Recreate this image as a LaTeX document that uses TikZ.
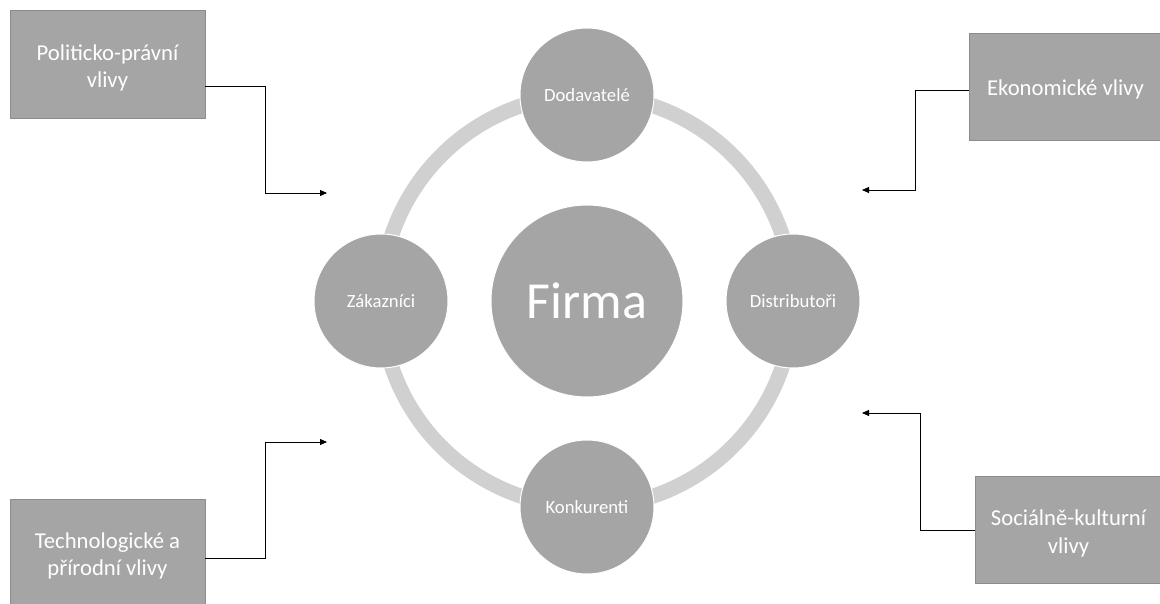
\documentclass[tikz,border=0pt]{standalone}
\usepackage{fontspec}
\setmainfont{Carlito}
\usepackage{tikz}
\usetikzlibrary{arrows.meta,positioning}

\definecolor{fillgray}{HTML}{A5A5A5}
\definecolor{ringgray}{HTML}{D0D0D0}
\definecolor{edgegray}{HTML}{8C8C8C}

\begin{document}
\begin{tikzpicture}[x=1pt,y=-1pt,>={Triangle[length=7pt,width=6pt]},
    vliv/.style={draw=edgegray, line width=0.8pt, fill=fillgray, inner sep=0pt},
    vlivtext/.style={text=white, align=center, inner sep=0pt, yshift=-4pt,
        font=\fontsize{22.7}{27.7}\selectfont},
    faktor/.style={draw=white, line width=1pt, circle, fill=fillgray, text=white, inner sep=0pt,
        minimum size=134pt, font=\fontsize{18.7}{22}\selectfont},
    flow/.style={->, line width=0.8pt, black}]
    \useasboundingbox (0,0) rectangle (1160,604);

    % kruh okoli
    \draw[ringgray, line width=15pt] (587,301) circle (206);

    \node[faktor, minimum size=192pt, font=\fontsize{52}{60}\selectfont] (firma) at (587,301) {Firma};
    \node[faktor] (dod) at (587,95) {Dodavatelé};
    \node[faktor] (kon) at (587,507) {Konkurenti};
    \node[faktor] (zak) at (381,301) {Zákazníci};
    \node[faktor] (dis) at (793,301) {Distributoři};

    % vlivy
    \node[vliv, minimum width=195pt, minimum height=108pt,
        label={[vlivtext]center:Politicko-právní\\vlivy}] (pol) at (107.5,64) {};
    \node[vliv, minimum width=193pt, minimum height=107pt,
        label={[vlivtext, yshift=1.5pt]center:Ekonomické vlivy}] (eko) at (1065.5,86.5) {};
    \node[vliv, minimum width=195pt, minimum height=106pt,
        label={[vlivtext]center:Technologické a\\přírodní vlivy}] (tech) at (107.5,552) {};
    \node[vliv, minimum width=187pt, minimum height=107pt,
        label={[vlivtext]center:Sociálně-kulturní\\vlivy}] (soc) at (1068.5,529.5) {};

    \coordinate (pol-in) at (327,193);
    \coordinate (eko-in) at (862,190);
    \coordinate (tech-in) at (327,442);
    \coordinate (soc-in) at (862,413);

    \draw[flow] (pol.east |- 0,86) -- ++(60,0) |- (pol-in);
    \draw[flow] (eko.west |- 0,90) -- ++(-53,0) |- (eko-in);
    \draw[flow] (tech.east |- 0,558) -- ++(60,0) |- (tech-in);
    \draw[flow] (soc.west |- 0,530) -- ++(-54,0) |- (soc-in);
\end{tikzpicture}
\end{document}
